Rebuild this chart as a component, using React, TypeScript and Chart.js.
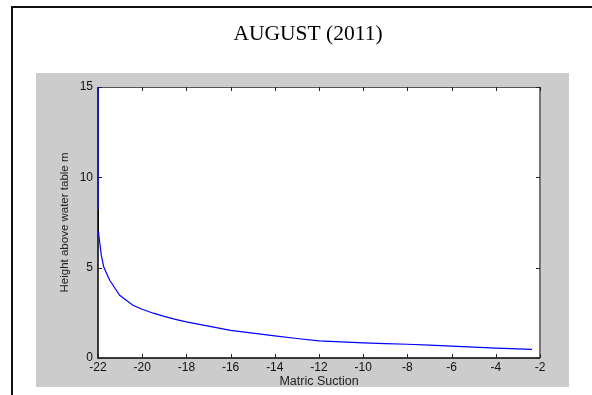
import React, { useEffect, useRef } from "react";
import { Chart, registerables } from "chart.js";

Chart.register(...registerables);

const TITLE = "AUGUST (2011)";
const X_LABEL = "Matric Suction";
const Y_LABEL = "Height above water table m";

const suction = [
  -22, -22, -21.99, -21.97, -21.85, -21.74, -21.47, -21.02, -20.42, -20,
  -19.5, -19, -18.5, -18, -17, -16, -15, -14, -13, -12, -11, -10, -9, -8, -7,
  -6, -5, -4, -3, -2.36,
];
const height = [
  15, 8.2, 7.0, 6.88, 5.68, 5.04, 4.3, 3.47, 2.92, 2.7, 2.48, 2.3, 2.14,
  2.0, 1.76, 1.53, 1.38, 1.22, 1.08, 0.95, 0.89, 0.84, 0.8, 0.76, 0.71, 0.66,
  0.6, 0.55, 0.5, 0.48,
];

const X_MIN = -22;
const X_MAX = -2;
const X_STEP = 2;
const Y_MIN = 0;
const Y_MAX = 15;
const Y_STEP = 5;

const framePlugin = {
  id: "framePlugin",
  beforeDraw(chart: any) {
    const { ctx, width, height: h, chartArea } = chart;
    ctx.save();
    ctx.fillStyle = "#ffffff";
    ctx.fillRect(0, 0, width, h);
    // outer frame
    ctx.strokeStyle = "#111111";
    ctx.lineWidth = 2;
    ctx.beginPath();
    ctx.moveTo(12, h);
    ctx.lineTo(12, 7);
    ctx.lineTo(width, 7);
    ctx.stroke();
    // gray figure panel
    ctx.fillStyle = "#cccccc";
    ctx.fillRect(36, 73, 533, 314);
    // plot area
    ctx.fillStyle = "#ffffff";
    ctx.fillRect(
      chartArea.left,
      chartArea.top,
      chartArea.right - chartArea.left,
      chartArea.bottom - chartArea.top
    );
    // title
    ctx.fillStyle = "#000000";
    ctx.font = "21.5px 'Liberation Serif', 'Times New Roman', serif";
    ctx.textAlign = "center";
    ctx.textBaseline = "alphabetic";
    ctx.fillText(TITLE, 308, 39.5);
    ctx.restore();
  },
  beforeDatasetsDraw(chart: any) {
    const { ctx, chartArea, scales } = chart;
    const { left, right, top, bottom } = chartArea;
    ctx.save();
    // top & right box lines
    ctx.strokeStyle = "#555555";
    ctx.lineWidth = 1;
    ctx.beginPath();
    ctx.moveTo(left, top + 0.5);
    ctx.lineTo(right, top + 0.5);
    ctx.stroke();
    ctx.strokeStyle = "#777777";
    ctx.lineWidth = 2;
    ctx.beginPath();
    ctx.moveTo(right, top);
    ctx.lineTo(right, bottom);
    ctx.stroke();
    // left & bottom axes
    ctx.strokeStyle = "#000000";
    ctx.lineWidth = 1.5;
    ctx.beginPath();
    ctx.moveTo(left, top);
    ctx.lineTo(left, bottom);
    ctx.lineTo(right, bottom);
    ctx.stroke();
    // inward ticks
    ctx.lineWidth = 1;
    ctx.strokeStyle = "#222222";
    const tl = 4;
    ctx.beginPath();
    scales.x.ticks.forEach((t: any) => {
      const px = Math.round(scales.x.getPixelForValue(t.value)) + 0.5;
      ctx.moveTo(px, bottom);
      ctx.lineTo(px, bottom - tl);
      ctx.moveTo(px, top);
      ctx.lineTo(px, top + tl);
    });
    scales.y.ticks.forEach((t: any) => {
      const py = Math.round(scales.y.getPixelForValue(t.value)) + 0.5;
      ctx.moveTo(left, py);
      ctx.lineTo(left + tl, py);
      ctx.moveTo(right, py);
      ctx.lineTo(right - tl, py);
    });
    ctx.stroke();
    ctx.restore();
  },
};

export default function App() {
  const canvasRef = useRef<HTMLCanvasElement | null>(null);

  useEffect(() => {
    document.body.style.margin = "0";
    const canvas = canvasRef.current;
    if (!canvas) return;
    const tickFont = { family: "'Liberation Sans', Arial, sans-serif", size: 12 };
    const chart = new Chart(canvas, {
      type: "line",
      data: {
        datasets: [
          {
            data: suction.map((x, i) => ({ x, y: height[i] })),
            borderColor: "#0000ff",
            borderWidth: 1.2,
            pointRadius: 0,
            tension: 0,
            fill: false,
            segment: {
              borderColor: (c: any) => (c.p0DataIndex === 1 ? "#000000" : undefined),
            },
          },
        ],
      },
      options: {
        responsive: false,
        animation: false,
        devicePixelRatio: 1,
        layout: { padding: { left: 36, right: 52, top: 87, bottom: 0 } },
        plugins: {
          legend: { display: false },
          title: { display: false },
          tooltip: { enabled: false },
        },
        scales: {
          x: {
            type: "linear",
            min: X_MIN,
            max: X_MAX,
            grid: { display: false, drawTicks: false },
            border: { display: false },
            ticks: {
              stepSize: X_STEP,
              padding: 2,
              color: "#111111",
              font: tickFont,
              maxRotation: 0,
              autoSkip: false,
            },
            title: {
              display: true,
              text: X_LABEL,
              color: "#222222",
              font: { family: "'Liberation Sans', Arial, sans-serif", size: 12.5 },
              padding: { top: 0, bottom: 6 },
            },
            afterFit: (s: any) => {
              s.height = 37;
            },
          },
          y: {
            type: "linear",
            min: Y_MIN,
            max: Y_MAX,
            grid: { display: false, drawTicks: false },
            border: { display: false },
            ticks: {
              stepSize: Y_STEP,
              padding: 5,
              color: "#111111",
              font: tickFont,
            },
            title: {
              display: true,
              text: Y_LABEL,
              color: "#222222",
              font: { family: "'Liberation Sans', Arial, sans-serif", size: 11.5 },
              padding: { top: 22, bottom: 0 },
            },
            afterFit: (s: any) => {
              s.width = 62;
            },
          },
        },
      },
      plugins: [framePlugin],
    });
    return () => chart.destroy();
  }, []);

  return (
    <canvas
      ref={canvasRef}
      width={592}
      height={395}
      style={{ display: "block", width: 592, height: 395 }}
    />
  );
}
